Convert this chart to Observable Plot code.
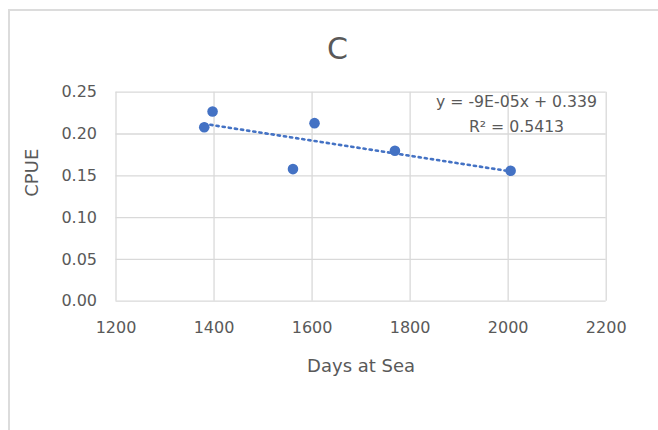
<!DOCTYPE html>
<html><head><meta charset="utf-8">
<script src="https://cdn.jsdelivr.net/npm/d3@7"></script>
<script src="https://cdn.jsdelivr.net/npm/@observablehq/plot@0.6"></script>
<style>
body{margin:0;background:#fff;}
#wrap{position:relative;width:658px;height:430px;overflow:hidden;}
#chart{position:absolute;left:0;top:0;}
#frame{position:absolute;left:8px;top:8.5px;width:800px;height:600px;border-left:2.5px solid #dcdcdc;border-top:2.5px solid #dcdcdc;pointer-events:none;}
</style></head><body>
<div id="wrap"><div id="chart"></div><div id="frame"></div></div>
<script>
const title = "C";
const xLabel = "Days at Sea";
const yLabel = "CPUE";
const days = [1380, 1397, 1561, 1605, 1769, 2005];
const cpue = [0.208, 0.227, 0.158, 0.213, 0.180, 0.156];
const xTicks = [1200, 1400, 1600, 1800, 2000, 2200];
const yTicks = [0, 0.05, 0.10, 0.15, 0.20, 0.25];
const trendLabel = ["y = -9E-05x + 0.339", "R² = 0.5413"];

const data = days.map((d, i) => ({days: d, cpue: cpue[i]}));
const blue = "#4472C4";
const gridColor = "#d9d9d9";
const textColor = "#595959";

const chart = Plot.plot({
  width: 658, height: 430,
  marginLeft: 115.5, marginRight: 52.3, marginTop: 91.7, marginBottom: 129.3,
  style: {fontFamily: "DejaVu Sans", fontSize: "16px", color: textColor, background: "transparent"},
  x: {domain: [1200, 2200]},
  y: {domain: [0, 0.25]},
  marks: [
    Plot.gridX(xTicks, {stroke: gridColor, strokeOpacity: 1, strokeWidth: 1.3}),
    Plot.gridY(yTicks, {stroke: gridColor, strokeOpacity: 1, strokeWidth: 1.3}),
    Plot.axisX(xTicks, {tickSize: 0, tickPadding: 20, tickFormat: "d", label: null, fontSize: 16, fill: textColor}),
    Plot.axisY(yTicks, {tickSize: 0, tickPadding: 19, tickFormat: d3.format(".2f"), label: null, fontSize: 16, fill: textColor}),
    Plot.dot(data, {x: "days", y: "cpue", r: 5.3, fill: blue, stroke: "none"}),
    Plot.linearRegressionY(data, {x: "days", y: "cpue", ci: 0, stroke: blue, strokeWidth: 2.6, strokeDasharray: "2.2,4"}),
    Plot.text([trendLabel.join("\n")], {text: d => d, frameAnchor: "top-right", dx: -89.7, dy: -3.4, textAnchor: "middle", lineAnchor: "top", lineHeight: 1.6, fontSize: 15.7, fill: textColor}),
    Plot.text([title], {text: d => d, frameAnchor: "top", dx: -23.6, dy: -55, lineAnchor: "top", fontSize: 30, fill: textColor}),
    Plot.text([xLabel], {text: d => d, frameAnchor: "bottom", dy: 71, lineAnchor: "bottom", fontSize: 18, fill: textColor}),
    Plot.text([yLabel], {text: d => d, frameAnchor: "left", dx: -83.8, rotate: -90, lineAnchor: "middle", fontSize: 18, fill: textColor})
  ]
});
document.getElementById("chart").appendChild(chart);
</script>
</body></html>
